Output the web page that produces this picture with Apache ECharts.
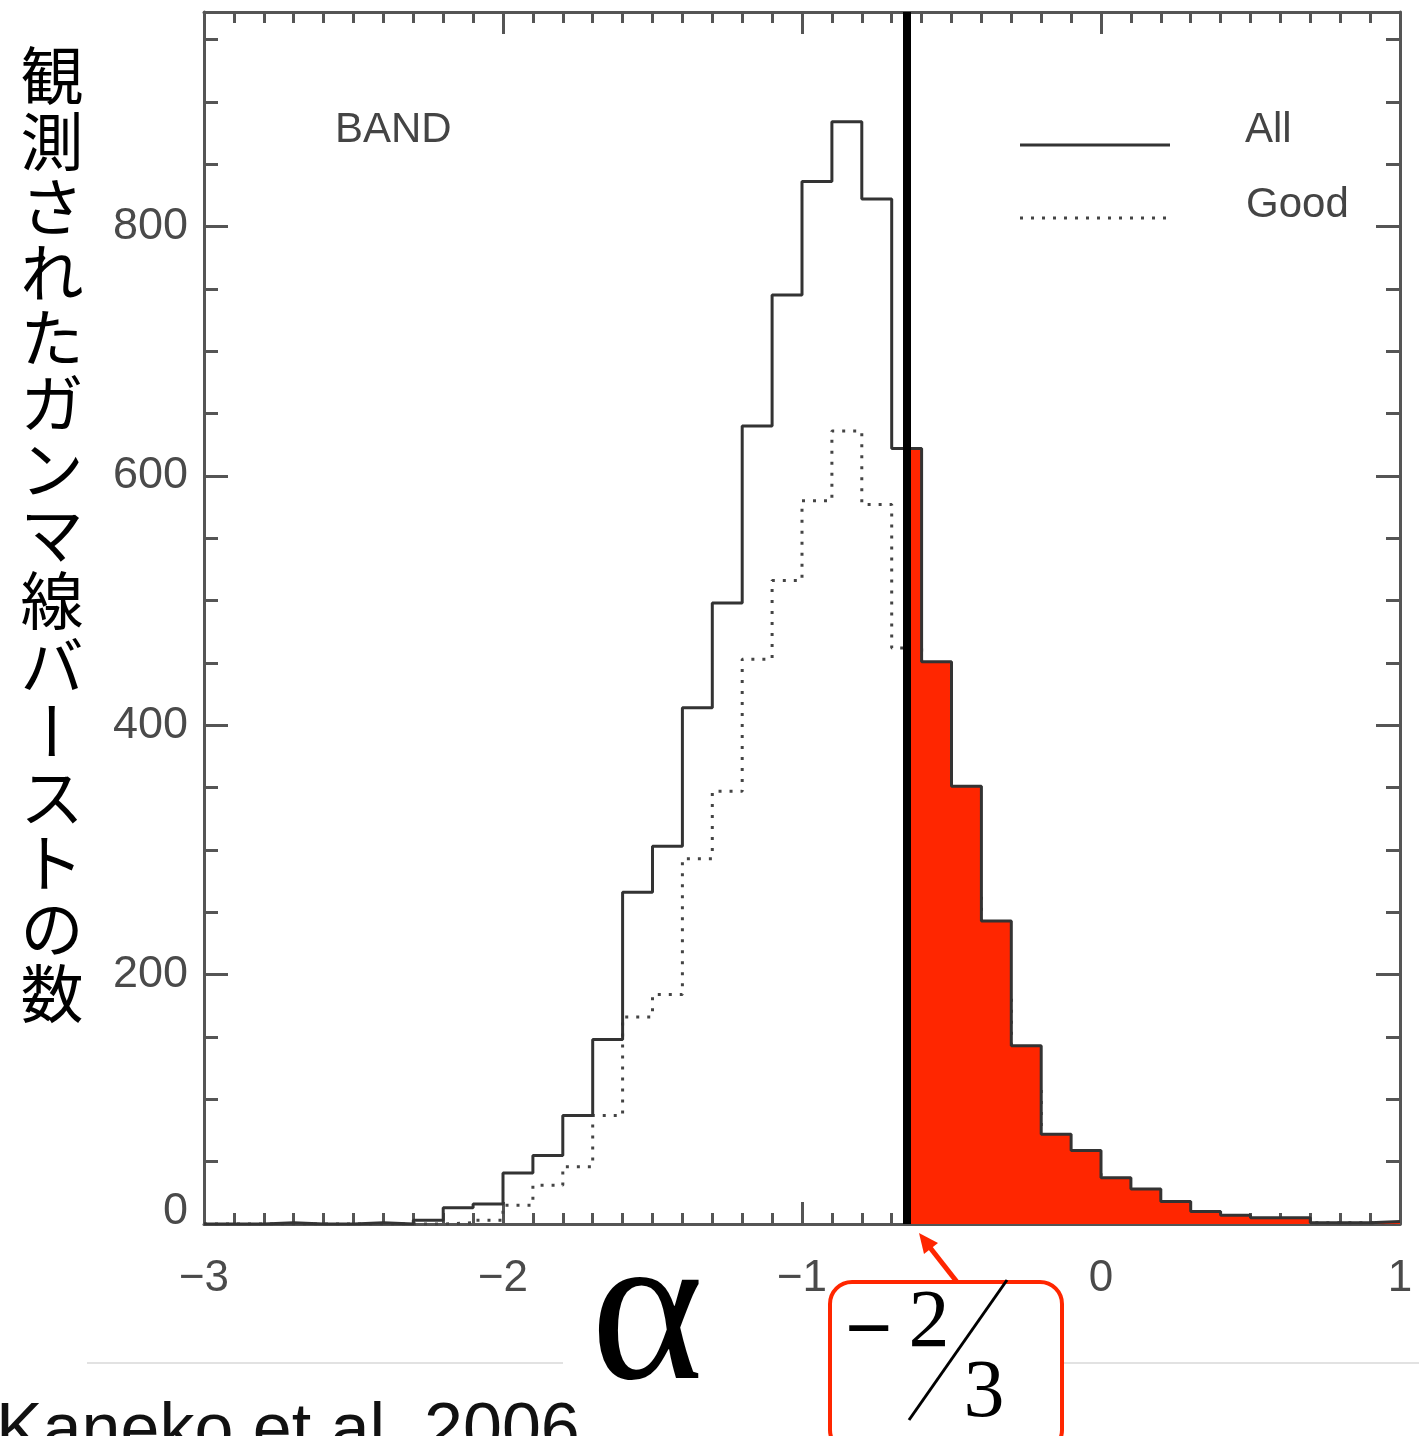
<!DOCTYPE html>
<html>
<head>
<meta charset="utf-8">
<title>BAND alpha distribution</title>
<script src="https://cdn.jsdelivr.net/npm/echarts@6/dist/echarts.min.js"></script>
<style>
  html, body { margin: 0; padding: 0; background: #fff; }
  #chart { width: 1419px; height: 1436px; }
</style>
</head>
<body>
<div id="chart"></div>
<script>
// ビンの端 (幅 0.1)
var binEdges = [-3.0, -2.9, -2.8, -2.7, -2.6, -2.5, -2.4, -2.3, -2.2, -2.1,
  -2.0, -1.9, -1.8, -1.7, -1.6, -1.5, -1.4, -1.3, -1.2, -1.1,
  -1.0, -0.9, -0.8, -0.7, -0.6, -0.5, -0.4, -0.3, -0.2, -0.1,
  0.0, 0.1, 0.2, 0.3, 0.4, 0.5, 0.6, 0.7, 0.8, 0.9, 1.0];

// All (実線)
var allCounts = [0, 0, 1, 0, 0, 1, 0, 3, 13, 16,
  41, 55, 87, 148, 266, 303, 414, 498, 640, 745,
  836, 884, 822, 622, 451, 351, 243, 143, 72, 59,
  37, 28, 18, 10, 7, 5, 5, 1, 1, 2];

// Good (点線) -0.6 より右は赤で隠れているので推定
var goodCounts = [0, 0, 0, 0, 0, 0, 0, 0, 1, 3,
  15, 31, 46, 87, 166, 184, 293, 347, 453, 516,
  580, 636, 577, 462, 340, 265, 185, 110, 55, 45,
  28, 20, 13, 7, 5, 3, 3, 1, 1, 1];

var xTickValues = [-3, -2, -1, 0, 1];
var yTickValues = [0, 200, 400, 600, 800];

// シンクロトロン限界 α = -2/3 (スライド上で引かれた位置)
var syncLine = -0.652;

var yTitle = '観測されたガンマ線バーストの数';

var axisColor = '#555';
var yMax = 972;

// ステップ用のデータ
function stepData(counts, fromX) {
  var pts = [];
  for (var i = 0; i < counts.length; i++) {
    if (fromX != null && binEdges[i + 1] <= fromX) continue;
    var x = fromX != null ? Math.max(binEdges[i], fromX) : binEdges[i];
    pts.push([x, counts[i]]);
  }
  pts.push([binEdges[binEdges.length - 1], counts[counts.length - 1]]);
  return pts;
}

function xAxisOpt(pos, showLabel) {
  return {
    type: 'value',
    position: pos,
    min: -3,
    max: 1,
    interval: 1,
    axisLine: { onZero: false, lineStyle: { color: axisColor, width: 3 } },
    axisTick: { inside: true, length: 22, lineStyle: { color: axisColor, width: 3 } },
    minorTick: { show: true, splitNumber: 10, length: 11, lineStyle: { color: axisColor, width: 3 } },
    splitLine: { show: false },
    minorSplitLine: { show: false },
    axisLabel: {
      show: showLabel,
      margin: 33,
      fontSize: 44,
      fontFamily: 'Liberation Sans',
      color: '#4a4a4a',
      showMinLabel: true,
      showMaxLabel: true,
      formatter: function (v) {
        if (xTickValues.indexOf(v) < 0) return '';
        return v < 0 ? '\u2212' + (-v) : String(v);
      }
    }
  };
}

function yAxisOpt(pos, major, showLabel) {
  return {
    type: 'value',
    position: pos,
    min: 0,
    max: yMax,
    interval: major ? 200 : 50,
    axisLine: { show: major, onZero: false, lineStyle: { color: axisColor, width: 3 } },
    axisTick: { inside: true, length: major ? 24 : 14, lineStyle: { color: axisColor, width: 3 } },
    splitLine: { show: false },
    axisLabel: {
      show: showLabel,
      margin: 16,
      fontSize: 45,
      lineHeight: 24,
      fontFamily: 'Liberation Sans',
      color: '#4a4a4a',
      verticalAlignMinLabel: 'bottom',
      formatter: function (v) {
        return yTickValues.indexOf(v) >= 0 ? String(v) : '';
      }
    }
  };
}

// 縦書きのタイトル
var titleEls = [];
for (var i = 0; i < yTitle.length; i++) {
  var ch = yTitle.charAt(i);
  titleEls.push({
    type: 'text',
    x: 52,
    y: 75 + i * 65.6,
    rotation: ch === 'ー' ? -Math.PI / 2 : 0,
    style: {
      text: ch,
      fontSize: 63,
      fontFamily: 'Noto Sans CJK JP',
      fill: '#000',
      align: 'center',
      verticalAlign: 'middle'
    }
  });
}

var red = '#ff2600';

var graphics = titleEls.concat([
  { type: 'text', x: 335, y: 130, style: { text: 'BAND', fontSize: 42, fontFamily: 'Liberation Sans', fill: '#444', verticalAlign: 'middle' } },
  // 凡例
  { type: 'line', shape: { x1: 1020, y1: 145, x2: 1170, y2: 145 }, style: { stroke: '#333', lineWidth: 3 } },
  { type: 'text', x: 1245, y: 130, style: { text: 'All', fontSize: 42, fontFamily: 'Liberation Sans', fill: '#444', verticalAlign: 'middle' } },
  { type: 'line', shape: { x1: 1020, y1: 218, x2: 1166, y2: 218 }, style: { stroke: '#444', lineWidth: 3, lineDash: [3, 8] } },
  { type: 'text', x: 1246, y: 205, style: { text: 'Good', fontSize: 42, fontFamily: 'Liberation Sans', fill: '#444', verticalAlign: 'middle' } },
  // スライドの薄い線
  { type: 'line', z: 1, shape: { x1: 87, y1: 1363, x2: 563, y2: 1363 }, style: { stroke: '#e2e2e2', lineWidth: 2 } },
  { type: 'line', z: 1, shape: { x1: 1025, y1: 1363, x2: 1419, y2: 1363 }, style: { stroke: '#e2e2e2', lineWidth: 2 } },
  { type: 'text', x: 647, y: 1322, z: 10, style: { text: 'α', fontSize: 215, fontFamily: 'Liberation Serif', fill: '#000', align: 'center', verticalAlign: 'middle' } },
  // -2/3 の枠
  { type: 'rect', z: 10, shape: { x: 830, y: 1282, width: 232, height: 170, r: 22 }, style: { fill: '#fff', stroke: red, lineWidth: 4 } },
  { type: 'text', z: 11, x: 869, y: 1334, style: { text: '\u2212', fontSize: 84, fontWeight: 'bold', fontFamily: 'Liberation Serif', fill: '#000', align: 'center', verticalAlign: 'middle' } },
  { type: 'text', z: 11, x: 929, y: 1324, style: { text: '2', fontSize: 82, fontFamily: 'Liberation Serif', fill: '#000', align: 'center', verticalAlign: 'middle' } },
  { type: 'text', z: 11, x: 984, y: 1394, style: { text: '3', fontSize: 82, fontFamily: 'Liberation Serif', fill: '#000', align: 'center', verticalAlign: 'middle' } },
  { type: 'line', z: 11, shape: { x1: 1007, y1: 1280, x2: 909, y2: 1420 }, style: { stroke: '#000', lineWidth: 3 } },
  // 矢印
  { type: 'line', z: 11, shape: { x1: 957, y1: 1282, x2: 928, y2: 1245 }, style: { stroke: red, lineWidth: 5 } },
  { type: 'polygon', z: 11, shape: { points: [[919, 1233], [938, 1243], [924, 1254]] }, style: { fill: red } },
  { type: 'text', z: 10, x: -4, y: 1398, style: { text: 'Kaneko et al. 2006', fontSize: 70, fontFamily: 'Liberation Sans', fill: '#111', verticalAlign: 'top' } }
]);

var myChart = echarts.init(document.getElementById('chart'));

var option = {
  animation: false,
  backgroundColor: '#fff',
  grid: { left: 204, right: 19, top: 12, bottom: 212 },
  xAxis: [xAxisOpt('bottom', true), xAxisOpt('top', false)],
  yAxis: [
    yAxisOpt('left', true, true),
    yAxisOpt('left', false, false),
    yAxisOpt('right', true, false),
    yAxisOpt('right', false, false)
  ],
  series: [
    {
      name: 'Good',
      type: 'line',
      step: 'end',
      z: 1,
      symbol: 'none',
      data: stepData(goodCounts),
      lineStyle: { color: '#444', width: 3, type: [3, 8] }
    },
    {
      name: 'red',
      type: 'line',
      step: 'end',
      z: 2,
      symbol: 'none',
      data: stepData(allCounts, syncLine),
      lineStyle: { width: 0 },
      areaStyle: { color: red, opacity: 1 }
    },
    {
      name: 'All',
      type: 'line',
      step: 'end',
      z: 3,
      symbol: 'none',
      data: stepData(allCounts),
      lineStyle: { color: '#333', width: 3 },
      markLine: {
        silent: true,
        symbol: 'none',
        label: { show: false },
        lineStyle: { color: '#000', width: 8, type: 'solid' },
        data: [{ xAxis: syncLine }]
      }
    }
  ],
  graphic: graphics
};

myChart.setOption(option);
</script>
</body>
</html>
